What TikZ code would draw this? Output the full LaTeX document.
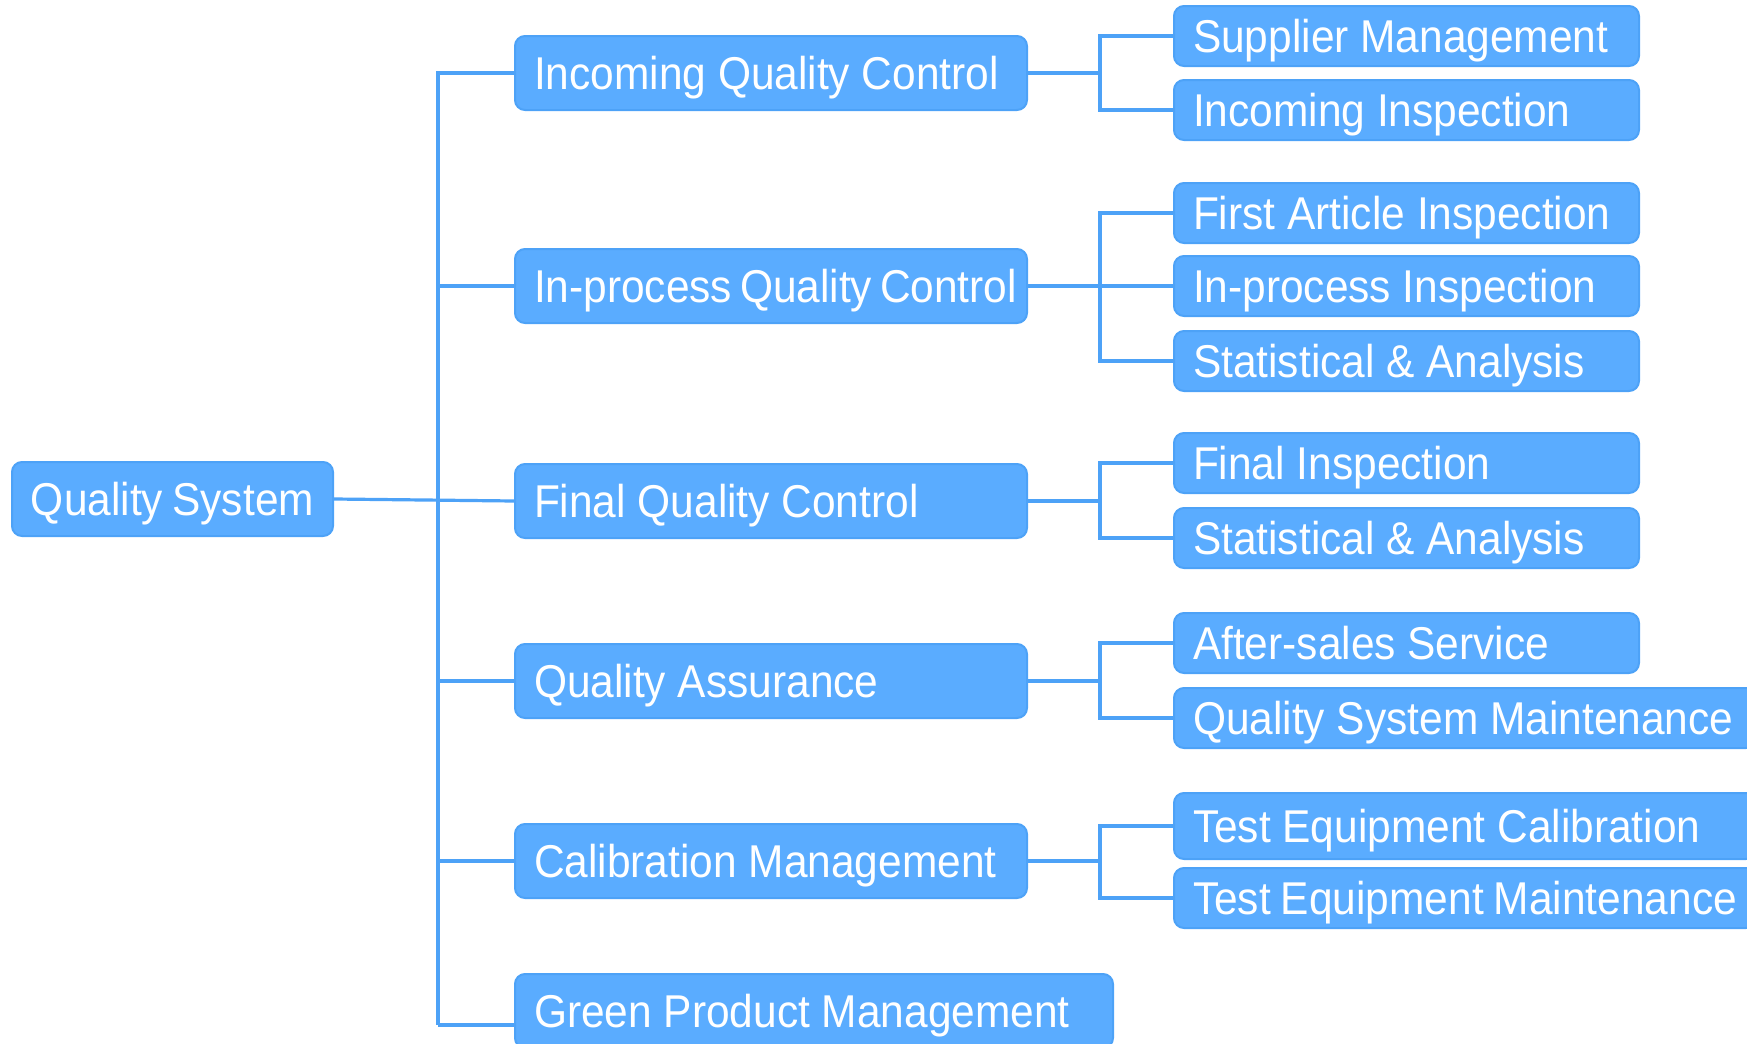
\documentclass[tikz,border=0pt]{standalone}
\usepackage{fontspec}
\setmainfont[FakeStretch=0.923]{Liberation Sans}
\definecolor{boxfill}{HTML}{5AACFF}
\definecolor{boxline}{HTML}{4DA2F7}
\begin{document}
\begin{tikzpicture}[x=0.5pt,y=-0.5pt,
    box/.style={draw=boxline, line width=1pt, fill=boxfill, rounded corners=5pt,
        text=white, anchor=west, inner xsep=9.5pt, inner ysep=0pt,
        text height=20.7pt, text depth=4.6pt,
        font=\fontsize{23}{23}\selectfont,
        execute at begin node={\hbox to #1\bgroup}, execute at end node={\hfil\egroup}},
    root/.style={box=141.5pt, minimum height=37pt},
    lvlone/.style={box=237pt, minimum height=37pt},
    lvltwo/.style={box=213.5pt, minimum height=30pt},
    wide/.style={box=272pt, minimum height=30pt},
    link/.style={draw=boxline, line width=1.6pt}]
    \useasboundingbox (0,0) rectangle (1747,1044);
    \clip (0,0) rectangle (1747,1044);
    % root
    \node[root] (qs) at (11,499) {Quality System};
    % first level
    \node[lvlone] (iqc) at (514,73) {Incoming Quality Control};
    \node[lvlone] (ipqc) at (514,286) {In-process Quality Control};
    \node[lvlone] (fqc) at (514,501) {Final Quality Control};
    \node[lvlone] (qa) at (514,681) {Quality Assurance};
    \node[lvlone] (cm) at (514,861) {Calibration Management};
    \node[box=280pt, minimum height=37pt] (gpm) at (514,1011) {Green Product Management};
    % second level
    \node[lvltwo] (sm) at (1173,36) {Supplier Management};
    \node[lvltwo] (ii) at (1173,110) {Incoming Inspection};
    \node[lvltwo] (fai) at (1173,213) {First Article Inspection};
    \node[lvltwo] (ipi) at (1173,286) {In-process Inspection};
    \node[lvltwo] (sa1) at (1173,361) {Statistical \& Analysis};
    \node[lvltwo] (fi) at (1173,463) {Final Inspection};
    \node[lvltwo] (sa2) at (1173,538) {Statistical \& Analysis};
    \node[lvltwo] (ass) at (1173,643) {After-sales Service};
    \node[wide] (qsm) at (1173,718) {Quality System Maintenance};
    \node[wide, minimum height=33pt] (tec) at (1173,826) {Test Equipment Calibration};
    \node[wide] (tem) at (1173,898) {Test Equipment Maintenance};
    % trunk
    \coordinate (tbot) at (438,1025);
    \draw[link] (qs.east) -- (fqc.west);
    \draw[link] (iqc.west) -| (tbot);
    \foreach \n in {ipqc,qa,cm}
        \draw[link] (\n.west) -- (\n.west -| tbot);
    \draw[link] (tbot) -- (tbot -| gpm.west);
    % brackets
    \foreach \n/\b in {iqc/b1,ipqc/b2,fqc/b3,qa/b4,cm/b5}{
        \coordinate (\b) at ([xshift=36pt]\n.east);
        \draw[link] (\n.east) -- (\b);
    }
    \draw[link] (sm.west) -| (b1) |- (ii.west);
    \draw[link] (fai.west) -| (b2) |- (sa1.west);
    \draw[link] (b2) -- (ipi.west);
    \draw[link] (fi.west) -| (b3) |- (sa2.west);
    \draw[link] (ass.west) -| (b4) |- (qsm.west);
    \draw[link] (tec.west) -| (b5) |- (tem.west);
\end{tikzpicture}
\end{document}
